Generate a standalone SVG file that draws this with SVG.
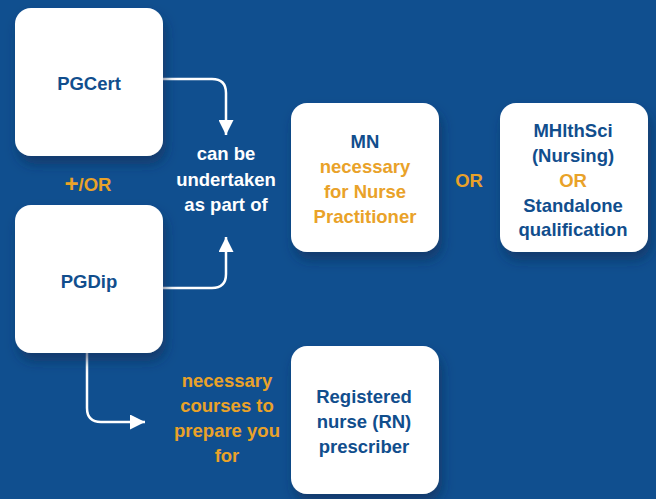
<svg xmlns="http://www.w3.org/2000/svg" width="656" height="499" viewBox="0 0 656 499">
<style>
  .box{fill:#ffffff;filter:url(#sh)}
  text{font-family:"Liberation Sans Narrow","Liberation Sans",Arial,sans-serif;font-weight:bold;font-size:18.5px;text-anchor:middle}
  .b{fill:#114e8d}
  .o{fill:#e9a229}
  .w{fill:#ffffff}
  .c{fill:none;stroke:#ffffff;stroke-width:2.5}
</style>
<defs>
  <filter id="sh" x="-20%" y="-20%" width="140%" height="150%">
    <feDropShadow dx="3" dy="8" stdDeviation="6" flood-color="#0a2a55" flood-opacity="0.6"/>
  </filter>
  <marker id="ah" markerWidth="15" markerHeight="15" viewBox="0 0 15 15" refX="15" refY="7.5" orient="auto" markerUnits="userSpaceOnUse">
    <path d="M0,0 L15,7.5 L0,15 Z" fill="#ffffff"/>
  </marker>
</defs>
<rect width="656" height="499" fill="#104f8f"/>

<g id="connectors">
  <path class="c" d="M163,79 H212 Q226,79 226,93 V135" marker-end="url(#ah)"/>
  <path class="c" d="M163,288 H212 Q226,288 226,274 V237" marker-end="url(#ah)"/>
  <path class="c" d="M87,353 V408 Q87,422 101,422 H145" marker-end="url(#ah)"/>
</g>

<g id="pgcert">
  <rect class="box" x="15" y="8" width="148" height="148" rx="16"/>
  <text class="b" x="89" y="90">PGCert</text>
</g>
<g id="andor">
  <text class="o" x="88" y="191"><tspan font-size="24" dy="1">+</tspan><tspan dy="-1">/OR</tspan></text>
</g>
<g id="pgdip">
  <rect class="box" x="15" y="205" width="148" height="148" rx="16"/>
  <text class="b" x="89" y="288">PGDip</text>
</g>
<g id="label-partof">
  <text class="w" x="226" y="160">can be</text>
  <text class="w" x="226" y="185.5">undertaken</text>
  <text class="w" x="226" y="211">as part of</text>
</g>
<g id="mn">
  <rect class="box" x="291" y="103" width="148" height="149" rx="16"/>
  <text class="b" x="365" y="148">MN</text>
  <text class="o" x="365" y="173">necessary</text>
  <text class="o" x="365" y="198">for Nurse</text>
  <text class="o" x="365" y="223">Practitioner</text>
</g>
<g id="or">
  <text class="o" x="469" y="187">OR</text>
</g>
<g id="mhlthsci">
  <rect class="box" x="500" y="103" width="148" height="149" rx="16"/>
  <text class="b" x="573" y="137">MHlthSci</text>
  <text class="b" x="573" y="161.5">(Nursing)</text>
  <text class="o" x="573" y="187">OR</text>
  <text class="b" x="573" y="211.5">Standalone</text>
  <text class="b" x="573" y="236">qualification</text>
</g>
<g id="label-courses">
  <text class="o" x="227" y="387">necessary</text>
  <text class="o" x="227" y="412">courses to</text>
  <text class="o" x="227" y="437">prepare you</text>
  <text class="o" x="227" y="462">for</text>
</g>
<g id="rn">
  <rect class="box" x="291" y="346" width="148" height="148" rx="16"/>
  <text class="b" x="364" y="403">Registered</text>
  <text class="b" x="364" y="428">nurse (RN)</text>
  <text class="b" x="364" y="453">prescriber</text>
</g>
</svg>
